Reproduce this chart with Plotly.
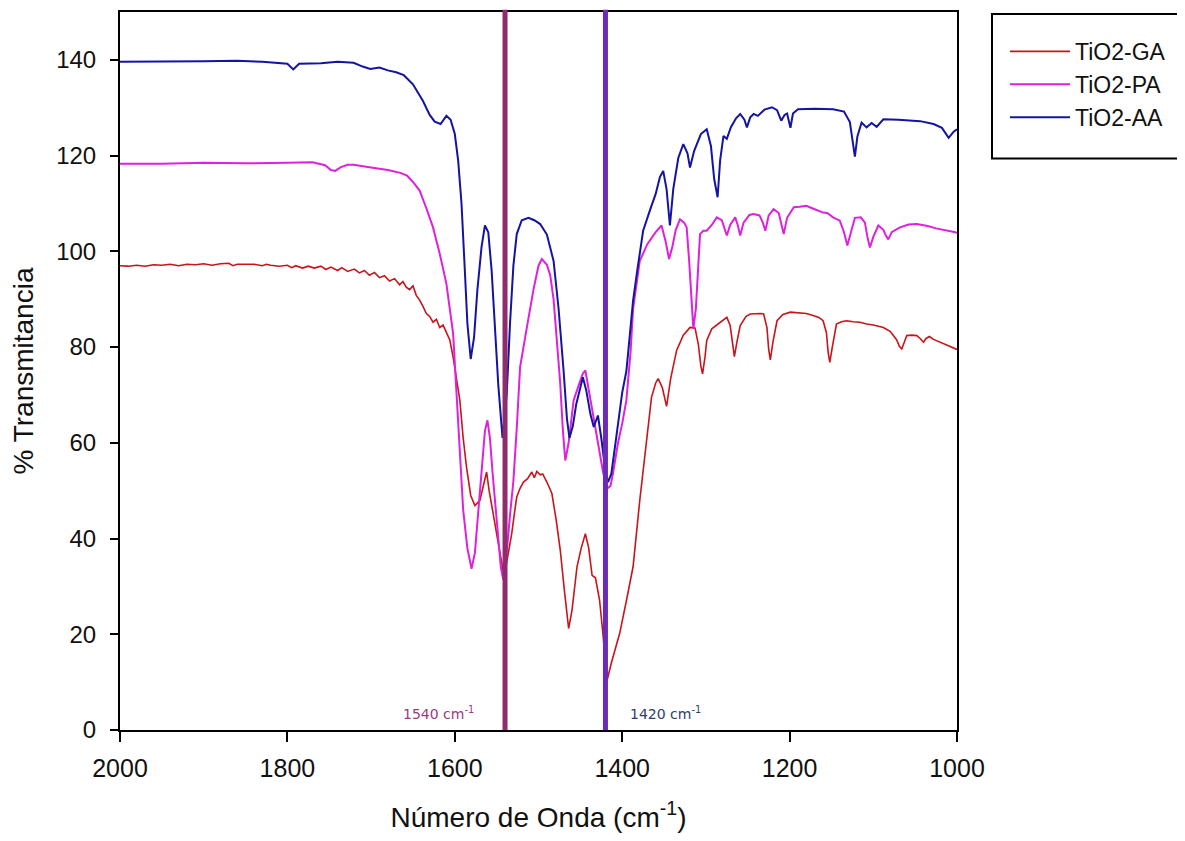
import plotly.graph_objects as go

# ---------------- data ----------------
wavenumber_aa = [2000, 1950, 1900, 1860, 1830, 1800, 1793, 1786, 1760, 1740, 1721, 1710, 1701, 1690, 1680,
                 1670, 1661, 1650, 1645, 1638, 1630, 1624, 1617, 1610, 1605, 1600, 1596, 1592, 1588, 1585,
                 1581, 1577, 1573, 1568, 1564, 1560, 1556, 1552, 1548, 1543, 1538, 1534, 1530, 1526, 1520,
                 1512, 1505, 1498, 1490, 1482, 1476, 1470, 1466, 1463, 1459, 1455, 1450, 1447, 1443, 1438,
                 1434, 1429, 1425, 1420, 1417, 1413, 1408, 1400, 1395, 1390, 1387, 1382, 1375, 1367, 1360,
                 1355, 1351, 1347, 1343, 1339, 1333, 1327, 1322, 1319, 1314, 1306, 1299, 1294, 1290, 1286,
                 1283, 1279, 1275, 1270, 1264, 1259, 1254, 1251, 1247, 1243, 1238, 1230, 1221, 1215, 1210,
                 1206, 1203, 1199, 1196, 1190, 1170, 1148, 1135, 1128, 1124, 1122, 1119, 1114, 1108, 1102,
                 1096, 1088, 1070, 1044, 1028, 1018, 1010, 1004, 1000]
trans_aa = [139.6, 139.6, 139.7, 139.8, 139.6, 139.2, 138.0, 139.2, 139.3, 139.6, 139.4, 138.6, 138.1, 138.4, 137.8,
            137.4, 136.8, 134.9, 133.5, 131.4, 128.5, 127.1, 126.6, 128.3, 127.5, 124.5, 119.0, 110.0, 96.0, 85.0,
            77.5, 82.0, 92.0, 101.0, 105.4, 104.0, 96.0, 84.0, 72.0, 61.0, 70.0, 85.0, 97.0, 103.6, 106.5,
            107.0, 106.5, 105.7, 103.5, 98.0, 88.0, 75.0, 65.0, 61.0, 63.5, 68.0, 72.0, 73.7, 71.0, 66.0,
            63.3, 65.7, 61.0, 54.0, 51.8, 53.5, 60.0, 70.5, 75.0, 84.0, 89.7, 96.0, 104.3, 108.5, 112.0,
            115.5, 116.8, 113.0, 105.4, 113.0, 119.5, 122.4, 120.5, 117.5, 121.0, 124.5, 125.5, 122.0, 115.0, 111.3,
            119.0, 124.1, 123.5, 126.0, 127.8, 128.7, 127.5, 125.9, 128.0, 128.7, 128.3, 129.6, 130.1, 129.5, 127.3,
            128.5, 128.8, 125.8, 128.8, 129.7, 129.8, 129.7, 129.2, 127.0, 122.0, 119.8, 124.0, 126.9, 125.9, 126.8,
            126.0, 127.6, 127.5, 127.2, 126.6, 125.8, 123.7, 125.0, 125.5]

wavenumber_pa = [2000, 1950, 1900, 1850, 1800, 1770, 1755, 1748, 1743, 1736, 1728, 1721, 1700, 1680, 1665,
                 1657, 1650, 1642, 1634, 1626, 1618, 1610, 1602, 1598, 1594, 1590, 1585, 1580, 1576, 1572,
                 1568, 1564, 1561, 1558, 1555, 1552, 1548, 1545, 1542, 1538, 1534, 1530, 1526, 1522, 1514,
                 1506, 1500, 1496, 1490, 1486, 1482, 1478, 1474, 1471, 1468, 1464, 1460, 1458, 1452, 1447,
                 1444, 1440, 1436, 1432, 1427, 1423, 1418, 1414, 1411, 1405, 1400, 1395, 1390, 1387, 1383,
                 1379, 1370, 1360, 1353, 1348, 1344, 1340, 1336, 1331, 1326, 1323, 1320, 1317, 1315, 1312,
                 1309, 1307, 1303, 1299, 1293, 1287, 1281, 1278, 1275, 1271, 1265, 1262, 1259, 1255, 1248,
                 1243, 1236, 1232, 1229, 1225, 1219, 1213, 1210, 1207, 1203, 1195, 1188, 1180, 1170, 1160,
                 1155, 1148, 1140, 1135, 1131, 1127, 1122, 1115, 1110, 1107, 1104, 1100, 1094, 1088, 1085,
                 1082, 1078, 1068, 1058, 1048, 1035, 1025, 1015, 1002, 1000]
trans_pa = [118.3, 118.3, 118.5, 118.4, 118.5, 118.6, 118.0, 117.0, 116.8, 117.6, 118.1, 118.1, 117.5, 117.0, 116.4,
            115.8, 114.5, 112.7, 109.0, 105.0, 99.5, 93.2, 82.8, 70.0, 56.0, 46.0, 38.0, 33.7, 37.0, 46.0,
            55.0, 62.5, 64.7, 61.0, 54.0, 48.0, 40.0, 34.0, 31.3, 37.0, 45.0, 52.0, 63.0, 75.8, 84.0,
            92.0, 97.0, 98.4, 97.2, 95.0, 90.0, 82.0, 72.3, 63.0, 56.3, 60.0, 66.0, 68.9, 72.0, 74.5,
            75.1, 71.0, 67.0, 63.0, 58.4, 54.0, 50.4, 51.0, 53.6, 60.0, 64.0, 68.9, 79.0, 88.0, 93.0,
            98.0, 101.5, 104.0, 105.4, 102.0, 98.4, 101.0, 104.5, 106.7, 106.0, 105.0, 98.0, 89.0, 83.8, 88.0,
            98.0, 103.6, 104.3, 104.3, 105.5, 107.1, 106.5, 105.0, 103.3, 105.5, 107.1, 105.5, 103.3, 106.0, 107.6,
            107.8, 107.5, 106.0, 104.3, 107.5, 108.8, 108.0, 105.5, 103.6, 107.0, 109.2, 109.3, 109.5, 108.8, 108.1,
            108.0, 107.1, 106.4, 104.0, 101.2, 104.0, 107.0, 107.1, 106.0, 103.0, 100.8, 103.0, 105.4, 104.5, 103.3,
            102.5, 104.0, 105.0, 105.6, 105.7, 105.3, 104.8, 104.5, 104.0, 103.8]

wavenumber_ga = [2000, 1990, 1980, 1970, 1960, 1950, 1940, 1930, 1920, 1910, 1900, 1890, 1880, 1870, 1865,
                 1860, 1850, 1840, 1830, 1825, 1820, 1810, 1800, 1795, 1790, 1782, 1775, 1768, 1760, 1754,
                 1748, 1740, 1735, 1728, 1720, 1714, 1708, 1702, 1696, 1690, 1684, 1678, 1672, 1666, 1662,
                 1658, 1654, 1650, 1646, 1642, 1638, 1634, 1630, 1626, 1622, 1618, 1614, 1610, 1606, 1602,
                 1598, 1594, 1590, 1586, 1581, 1576, 1570, 1566, 1562, 1559, 1556, 1553, 1550, 1546, 1541,
                 1537, 1532, 1529, 1526, 1522, 1518, 1513, 1510, 1508, 1505, 1502, 1498, 1495, 1490, 1484,
                 1479, 1474, 1469, 1464, 1460, 1454, 1449, 1444, 1440, 1436, 1432, 1427, 1423, 1418, 1413,
                 1403, 1395, 1387, 1379, 1371, 1365, 1360, 1357, 1352, 1347, 1342, 1335, 1327, 1319, 1313,
                 1309, 1306, 1304, 1301, 1299, 1293, 1288, 1280, 1275, 1271, 1268, 1266, 1263, 1259, 1252,
                 1247, 1235, 1231, 1227, 1225, 1223, 1220, 1215, 1208, 1199, 1190, 1180, 1172, 1165, 1160,
                 1156, 1154, 1152, 1149, 1144, 1138, 1132, 1124, 1116, 1108, 1100, 1088, 1080, 1076, 1072,
                 1069, 1066, 1063, 1060, 1054, 1048, 1044, 1040, 1037, 1033, 1028, 1020, 1010, 1002, 1000]
trans_ga = [97.0, 96.9, 97.1, 96.9, 97.2, 97.1, 97.3, 97.0, 97.3, 97.2, 97.4, 97.1, 97.4, 97.5, 97.0,
            97.3, 97.3, 97.3, 97.0, 97.3, 97.1, 96.9, 97.1, 96.6, 97.0, 96.5, 96.9, 96.5, 96.9, 96.2,
            96.7, 96.0, 96.6, 95.8, 96.3, 95.5, 96.0, 95.0, 95.6, 94.5, 94.9, 93.8, 94.3, 93.0, 93.7,
            92.5, 92.0, 92.8, 90.8, 89.8, 88.5, 87.0, 86.4, 85.2, 85.8, 84.1, 84.6, 83.1, 81.5, 77.9,
            73.0, 68.9, 61.0, 54.9, 49.0, 46.9, 48.0, 51.0, 53.9, 50.0, 46.6, 44.0, 41.0, 37.0, 32.0,
            36.0, 41.0, 45.0, 48.7, 50.5, 51.8, 52.5, 53.5, 53.9, 52.7, 54.0, 53.3, 53.5, 51.8, 49.4,
            44.0, 37.6, 29.0, 21.2, 25.0, 34.1, 38.0, 41.0, 38.0, 32.3, 31.8, 27.1, 20.0, 10.4, 14.0,
            20.2, 27.0, 34.1, 48.0, 61.0, 69.5, 72.5, 73.4, 71.5, 67.6, 73.5, 79.3, 82.5, 84.1, 84.0,
            80.5, 76.0, 74.4, 78.0, 81.4, 83.8, 84.5, 85.6, 86.2, 84.5, 80.0, 78.0, 81.0, 84.5, 86.4,
            86.9, 87.0, 86.9, 84.0, 79.5, 77.3, 81.0, 85.5, 86.8, 87.3, 87.2, 87.0, 86.6, 86.2, 85.5,
            83.0, 79.0, 76.8, 80.0, 84.8, 85.3, 85.5, 85.3, 85.2, 84.8, 84.6, 84.1, 83.3, 82.4, 81.5,
            80.2, 79.6, 81.0, 82.4, 82.5, 82.4, 81.8, 81.0, 81.8, 82.2, 81.6, 81.0, 80.3, 79.6, 79.5]

series_names = ["TiO2-GA", "TiO2-PA", "TiO2-AA"]
marker_lines = [1540, 1420]
marker_labels = ["1540 cm<sup>-1</sup>", "1420 cm<sup>-1</sup>"]
x_ticks = [2000, 1800, 1600, 1400, 1200, 1000]
y_ticks = [0, 20, 40, 60, 80, 100, 120, 140]

# ---------------- figure ----------------
# page body adds an 8 px offset, so the figure is drawn at 1177x833
W, H = 1177, 833
L, T, PW, PH = 112, 2, 837, 720

fig = go.Figure()
series = [
    (wavenumber_ga, trans_ga, "#C8141A", 1.6),
    (wavenumber_pa, trans_pa, "#DD22DD", 2.0),
    (wavenumber_aa, trans_aa, "#1414A0", 2.0),
]
for i, (xs, ys, col, w) in enumerate(series):
    fig.add_trace(go.Scatter(x=xs, y=ys, mode="lines", name=series_names[i],
                             legendgroup=series_names[i],
                             line=dict(color=col, width=w)))

# vertical marker lines
line_cols = ["#8E2C6E", "#6A2BB5"]
for xv, col in zip(marker_lines, line_cols):
    fig.add_shape(type="line", xref="x", yref="paper", x0=xv, x1=xv, y0=0, y1=1.003,
                  line=dict(color=col, width=5))

# annotations
fig.add_annotation(x=1620, y=3.5, xref="x", yref="y", text=marker_labels[0], showarrow=False,
                   font=dict(family="DejaVu Sans", size=14, color="#9B3B80"))
fig.add_annotation(x=1348, y=3.5, xref="x", yref="y", text=marker_labels[1], showarrow=False,
                   font=dict(family="DejaVu Sans", size=14, color="#2F3D6B"))

# legend frame (reference pixel coords -> paper)
def px_x(p):
    return (p - 8 - L) / PW

def px_y(p):
    return 1 - (p - 8 - T) / PH

fig.add_shape(type="rect", xref="paper", yref="paper",
              x0=px_x(992), x1=px_x(1182), y0=px_y(157), y1=px_y(12),
              line=dict(color="black", width=2), fillcolor="rgba(0,0,0,0)")

fig.update_layout(
    width=W, height=H,
    margin=dict(l=L, r=W - L - PW, t=T, b=H - T - PH, pad=0),
    paper_bgcolor="white", plot_bgcolor="white",
    showlegend=True,
    legend=dict(x=px_x(1005), y=px_y(28), xanchor="left", yanchor="top",
                bgcolor="rgba(0,0,0,0)", borderwidth=0,
                font=dict(family="Liberation Sans, Arial", size=23, color="#111111"),
                itemwidth=60, tracegroupgap=0, traceorder="grouped"),
    xaxis=dict(range=[2000, 1000], tickvals=x_ticks, ticks="outside", ticklen=10, tickwidth=2,
               tickcolor="black", showline=True, linecolor="black", linewidth=2, mirror=True,
               showgrid=False, zeroline=False, ticklabelstandoff=5,
               tickfont=dict(family="Liberation Sans, Arial", size=25, color="#111111"),
               title=dict(text="Número de Onda (cm<sup>-1</sup>)", standoff=26,
                          font=dict(family="Liberation Sans, Arial", size=28, color="#111111"))),
    yaxis=dict(range=[0, 150], tickvals=y_ticks, ticks="outside", ticklen=8, tickwidth=2,
               tickcolor="black", showline=True, linecolor="black", linewidth=2, mirror=True,
               showgrid=False, zeroline=False, ticklabelstandoff=9,
               tickfont=dict(family="Liberation Sans, Arial", size=24, color="#111111"),
               title=dict(text="% Transmitancia", standoff=22,
                          font=dict(family="Liberation Sans, Arial", size=28, color="#111111"))),
)

fig.write_html("out.html")
